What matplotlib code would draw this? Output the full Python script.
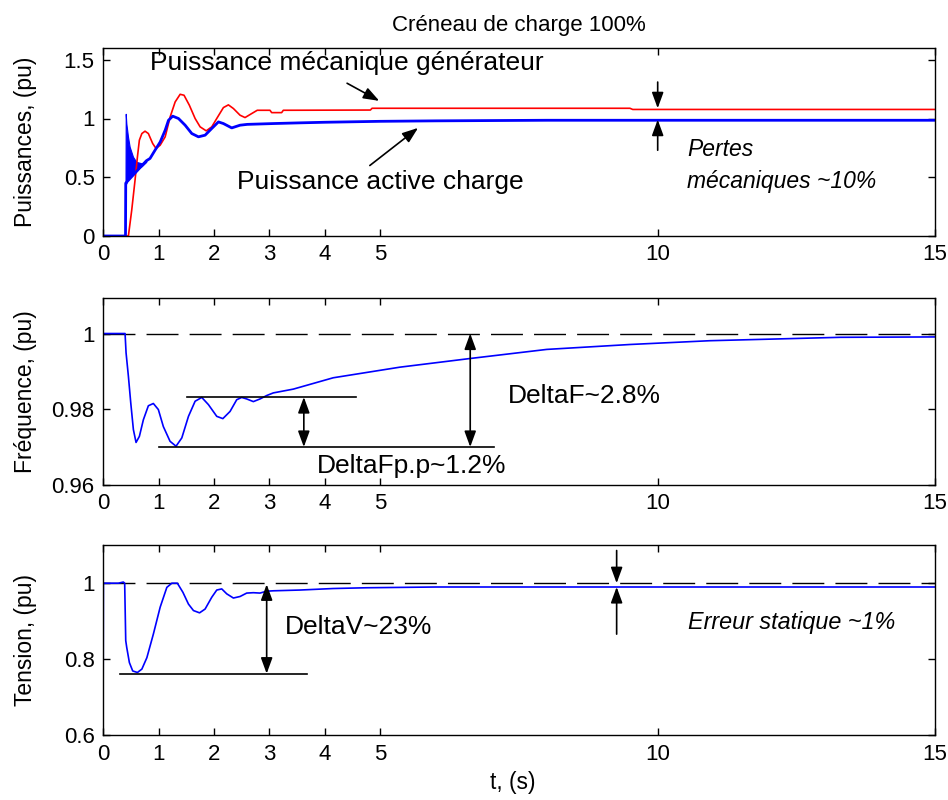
import matplotlib
matplotlib.use('Agg')
import matplotlib.pyplot as plt

plt.rcParams['font.family'] = ['Liberation Sans', 'DejaVu Sans']

# --- puissances (pu) ---
t_meca = [0, 0.457, 0.517, 0.577, 0.62, 0.655, 0.70, 0.757, 0.817, 0.895, 0.955, 1.03, 1.12,
          1.21, 1.30, 1.39, 1.46, 1.556, 1.66, 1.75, 1.86, 1.96, 2.05, 2.17, 2.26, 2.35, 2.47,
          2.56, 2.68, 2.78, 3.01, 3.04, 3.22, 3.25, 4.82, 4.85, 9.50, 9.55, 15]
p_meca = [0, 0, 0.22, 0.476, 0.674, 0.816, 0.872, 0.892, 0.872, 0.787, 0.745, 0.773, 0.844,
          1.014, 1.141, 1.206, 1.198, 1.113, 1.0, 0.929, 0.895, 0.929, 1.0, 1.093, 1.116, 1.085,
          1.028, 1.008, 1.042, 1.07, 1.07, 1.05, 1.05, 1.07, 1.072, 1.087, 1.087, 1.077, 1.077]

t_charge = [0, 0.405, 0.409, 0.78, 0.847, 0.937, 1.03, 1.12, 1.18, 1.256, 1.36, 1.48, 1.60,
            1.72, 1.84, 1.96, 2.08, 2.17, 2.32, 2.47, 2.60, 3.07, 3.55, 4.0, 5.0, 6.0, 8.0, 15]
p_charge = [0, 0, 0.45, 0.64, 0.66, 0.73, 0.80, 0.90, 0.985, 1.02, 1.0, 0.943, 0.872,
            0.844, 0.858, 0.915, 0.971, 0.957, 0.92, 0.943, 0.95, 0.957, 0.963, 0.968, 0.976,
            0.98, 0.985, 0.985]

# bande d'oscillation rapide au moment de l'enclenchement
t_osc = [0.405, 0.409, 0.42, 0.45, 0.48, 0.54, 0.60, 0.70, 0.78]
osc_haut = [0.45, 1.04, 0.957, 0.844, 0.759, 0.674, 0.631, 0.618, 0.646]
osc_bas = [0.45, 0.45, 0.447, 0.49, 0.505, 0.525, 0.56, 0.595, 0.631]

# --- frequence (pu) ---
t_freq = [0, 0.397, 0.415, 0.457, 0.50, 0.547, 0.595, 0.655, 0.727, 0.817, 0.907, 0.997,
          1.087, 1.208, 1.316, 1.42, 1.54, 1.66, 1.78, 1.90, 2.05, 2.16, 2.29, 2.41, 2.50, 2.59,
          2.71, 2.83, 2.95, 3.07, 3.43, 4.15, 5.35, 6.62, 8.0, 9.5, 10.94, 13.29, 15]
freq = [1.0, 1.0, 0.9949, 0.9887, 0.9816, 0.9746, 0.9712, 0.9728, 0.9772, 0.9809, 0.9815,
        0.9799, 0.9754, 0.9715, 0.9702, 0.9724, 0.9781, 0.9821, 0.9831, 0.9812, 0.9781, 0.9775,
        0.9794, 0.9825, 0.9831, 0.9827, 0.982, 0.9827, 0.9836, 0.9843, 0.9853, 0.9883, 0.9911,
        0.9934, 0.9958, 0.9971, 0.9981, 0.9990, 0.9991]

# --- tension (pu) ---
t_tens = [0, 0.006, 0.276, 0.366, 0.39, 0.409, 0.427, 0.475, 0.535, 0.62, 0.70, 0.79, 0.907,
          1.03, 1.15, 1.24, 1.34, 1.44, 1.54, 1.63, 1.74, 1.84, 1.96, 2.05, 2.14, 2.23, 2.35,
          2.47, 2.59, 2.71, 2.83, 2.95, 3.07, 3.55, 4.15, 4.75, 6.0, 15]
tension = [0.6, 1.0, 1.0, 1.003, 1.0, 0.849, 0.831, 0.791, 0.769, 0.765, 0.774, 0.804, 0.866,
           0.937, 0.989, 1.0, 1.0, 0.976, 0.945, 0.928, 0.922, 0.932, 0.963, 0.982, 0.985, 0.972,
           0.961, 0.965, 0.974, 0.975, 0.974, 0.979, 0.98, 0.982, 0.986, 0.988, 0.99, 0.99]

xticks = [0, 1, 2, 3, 4, 5, 10, 15]

fig = plt.figure(figsize=(9.48, 8), dpi=100)
ax1 = fig.add_axes([0.1087, 0.705, 0.8776, 0.235])
ax2 = fig.add_axes([0.1087, 0.394, 0.8776, 0.234])
ax3 = fig.add_axes([0.1087, 0.081, 0.8776, 0.2375])

for ax in (ax1, ax2, ax3):
    ax.set_xlim(0, 15)
    ax.set_xticks(xticks)
    ax.tick_params(direction='in', top=True, right=True, length=5, width=1,
                   labelsize=16, pad=6)
    for s in ax.spines.values():
        s.set_linewidth(1.0)

tete = '-|>,head_length=0.6,head_width=0.22'
arrow = dict(arrowstyle=tete, color='black', lw=1.2, mutation_scale=16, shrinkA=0, shrinkB=0)
double = dict(arrowstyle='<|-|>,head_length=0.6,head_width=0.22', color='black', lw=1.2,
              mutation_scale=16, shrinkA=0, shrinkB=0)
tirets = (0, (23, 8))

# panneau 1
ax1.plot(t_meca, p_meca, color='#ff0000', lw=1.2)
ax1.fill_between(t_osc, osc_bas, osc_haut, color='#0000ff', lw=0.8)
ax1.plot(t_charge, p_charge, color='#0000ff', lw=2.0)
ax1.set_ylim(0, 1.6)
ax1.set_yticks([0, 0.5, 1, 1.5])
ax1.set_yticklabels(['0', '0.5', '1', '1.5'])
ax1.set_ylabel('Puissances, (pu)', fontsize=16.5)
ax1.yaxis.set_label_coords(-0.079, 0.5)
ax1.set_title('Créneau de charge 100%', fontsize=16, pad=12)
ax1.text(0.85, 1.47, 'Puissance mécanique générateur', fontsize=19, va='center')
ax1.annotate('', xy=(4.98, 1.15), xytext=(4.40, 1.30), arrowprops=arrow)
ax1.text(2.42, 0.46, 'Puissance active charge', fontsize=19, va='center')
ax1.annotate('', xy=(5.68, 0.92), xytext=(4.81, 0.60), arrowprops=arrow)
ax1.annotate('', xy=(10, 1.087), xytext=(10, 1.31), arrowprops=arrow)
ax1.annotate('', xy=(10, 0.99), xytext=(10, 0.73), arrowprops=arrow)
ax1.text(10.53, 0.60, 'Pertes\nmécaniques ~10%', fontsize=16.5, style='italic',
         va='center', linespacing=1.45)

# panneau 2
ax2.axhline(1.0, color='black', lw=1, linestyle=tirets)
ax2.plot(t_freq, freq, color='#0000ff', lw=1.2)
ax2.set_ylim(0.96, 1.0095)
ax2.set_yticks([0.96, 0.98, 1])
ax2.set_yticklabels(['0.96', '0.98', '1'])
ax2.set_ylabel('Fréquence, (pu)', fontsize=16.5)
ax2.yaxis.set_label_coords(-0.079, 0.5)
ax2.plot([1.51, 4.56], [0.9832, 0.9832], color='black', lw=1.2)
ax2.plot([1.015, 7.04], [0.970, 0.970], color='black', lw=1.2)
ax2.annotate('', xy=(3.62, 0.9832), xytext=(3.62, 0.970), arrowprops=double)
ax2.annotate('', xy=(6.62, 1.0), xytext=(6.62, 0.970), arrowprops=double)
ax2.text(7.30, 0.9834, 'DeltaF~2.8%', fontsize=19, va='center')
ax2.text(3.85, 0.9651, 'DeltaFp.p~1.2%', fontsize=19, va='center')

# panneau 3
ax3.axhline(1.0, color='black', lw=1, linestyle=tirets)
ax3.plot(t_tens, tension, color='#0000ff', lw=1.2)
ax3.set_ylim(0.6, 1.1)
ax3.set_yticks([0.6, 0.8, 1])
ax3.set_yticklabels(['0.6', '0.8', '1'])
ax3.set_ylabel('Tension, (pu)', fontsize=16.5)
ax3.yaxis.set_label_coords(-0.079, 0.5)
ax3.plot([0.31, 3.67], [0.762, 0.762], color='black', lw=1.2)
ax3.annotate('', xy=(2.95, 0.997), xytext=(2.95, 0.762), arrowprops=double)
ax3.text(3.27, 0.884, 'DeltaV~23%', fontsize=19, va='center')
ax3.annotate('', xy=(9.26, 1.0), xytext=(9.26, 1.086), arrowprops=arrow)
ax3.annotate('', xy=(9.26, 0.99), xytext=(9.26, 0.866), arrowprops=arrow)
ax3.text(10.55, 0.897, 'Erreur statique ~1%', fontsize=16.8, style='italic', va='center')
ax3.set_xlabel('t, (s)', fontsize=16.5)
ax3.xaxis.set_label_coords(0.493, -0.19)

fig.savefig('out.png', dpi=100)
